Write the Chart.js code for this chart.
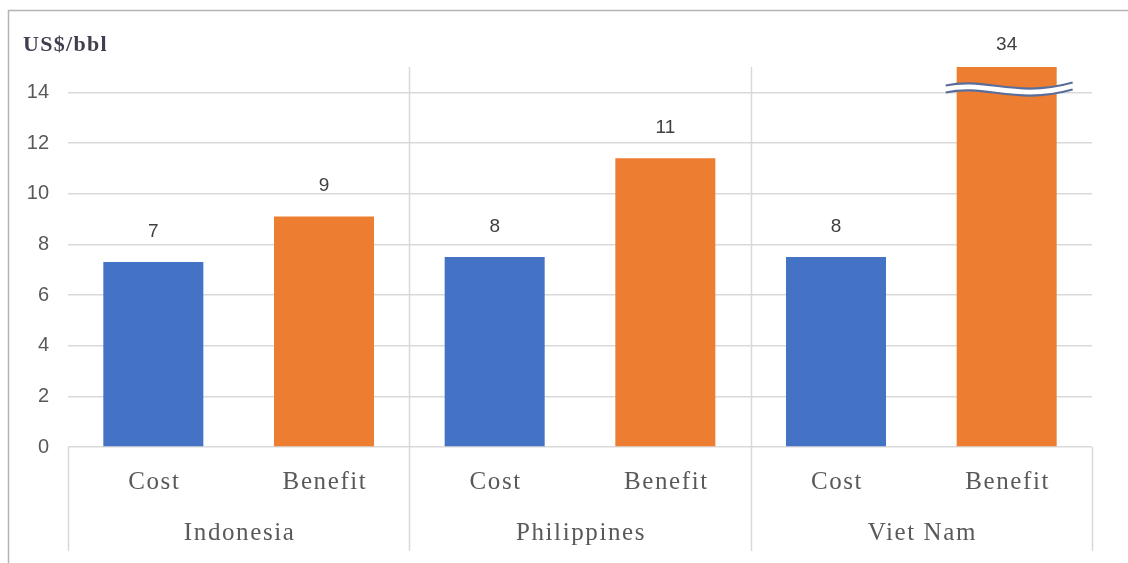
<!DOCTYPE html>
<html>
<head>
<meta charset="utf-8">
<script src="https://cdn.jsdelivr.net/npm/chart.js@4.4.1/dist/chart.umd.min.js"></script>
<style>
  html, body { margin: 0; padding: 0; background: #fff; }
  #wrap { width: 1128px; height: 563px; }
</style>
</head>
<body>
<div id="wrap"><canvas id="grafico" width="1128" height="563"></canvas></div>
<script>
// Dados
var countries = ['Indonesia', 'Philippines', 'Viet Nam'];
var items = ['Cost', 'Benefit'];
var costValues = [7.3, 7.5, 7.5];
var benefitValues = [9.1, 11.4, 34];
var yTicks = [0, 2, 4, 6, 8, 10, 12, 14];
var yMax = 15;
var unitLabel = 'US$/bbl';

var itemColors = ['#4472C4', '#ED7D31'];

// uma barra por item de cada pais
var labels = [];
var values = [];
var colors = [];
countries.forEach(function(c, i) {
    labels.push(items[0], items[1]);
    values.push(costValues[i], benefitValues[i]);
    colors.push(itemColors[0], itemColors[1]);
});

var GRID = '#d9d9d9';
var TEXT = '#595959';

// moldura, eixo de categorias, divisorias e rotulos
var decorPlugin = {
    id: 'decor',
    beforeDraw: function(chart) {
        var ctx = chart.ctx;
        ctx.save();
        ctx.strokeStyle = '#b4b4b4';
        ctx.lineWidth = 1.5;
        ctx.beginPath();
        ctx.moveTo(8.5, 563);
        ctx.lineTo(8.5, 10.5);
        ctx.lineTo(1128, 10.5);
        ctx.stroke();

        ctx.fillStyle = '#3f3f4f';
        ctx.font = 'bold 22px "Liberation Serif"';
        ctx.letterSpacing = '1.3px';
        ctx.textAlign = 'left';
        ctx.textBaseline = 'alphabetic';
        ctx.fillText(unitLabel, 23, 51);
        ctx.restore();
    },
    afterDraw: function(chart) {
        var ctx = chart.ctx;
        var area = chart.chartArea;
        var x = chart.scales.x;
        var bottom = 551;
        ctx.save();

        // divisorias entre paises
        ctx.strokeStyle = GRID;
        ctx.lineWidth = 1.5;
        for (var g = 0; g <= countries.length; g++) {
            var px;
            if (g === 0) px = area.left;
            else if (g === countries.length) px = area.right;
            else px = (x.getPixelForValue(g * 2 - 1) + x.getPixelForValue(g * 2)) / 2;
            var top = (g === 0 || g === countries.length) ? area.bottom : area.top;
            ctx.beginPath();
            ctx.moveTo(Math.round(px) + 0.5, top);
            ctx.lineTo(Math.round(px) + 0.5, bottom);
            ctx.stroke();
        }

        // rotulos das categorias
        ctx.fillStyle = TEXT;
        ctx.font = '25px "Liberation Serif"';
        ctx.letterSpacing = '1.6px';
        ctx.textAlign = 'center';
        ctx.textBaseline = 'middle';
        labels.forEach(function(l, i) {
            ctx.fillText(l, x.getPixelForValue(i) + 1, area.bottom + 35);
        });
        countries.forEach(function(c, i) {
            var cx = (x.getPixelForValue(i * 2) + x.getPixelForValue(i * 2 + 1)) / 2;
            ctx.fillText(c, cx + 1, area.bottom + 86);
        });
        ctx.restore();
    },
    afterDatasetsDraw: function(chart) {
        var ctx = chart.ctx;
        var area = chart.chartArea;
        var y = chart.scales.y;
        var meta = chart.getDatasetMeta(0);
        ctx.save();

        // sinal de quebra nas barras que passam do topo
        meta.data.forEach(function(bar, i) {
            if (values[i] <= yMax) return;
            var x0 = bar.x - 61, x1 = bar.x + 66;
            var yc = y.getPixelForValue(14.15);
            var wave = function(off) {
                ctx.moveTo(x0, yc - 3 + off);
                ctx.bezierCurveTo(x0 + 40, yc - 12 + off, x0 + 70, yc + 10 + off, x1, yc - 6 + off);
            };
            ctx.strokeStyle = '#ffffff';
            ctx.lineWidth = 7;
            ctx.beginPath(); wave(3.5); ctx.stroke();
            ctx.strokeStyle = '#5a6e9c';
            ctx.lineWidth = 2.2;
            ctx.beginPath(); wave(0); ctx.stroke();
            ctx.beginPath(); wave(7); ctx.stroke();
        });

        // valores acima das barras
        ctx.fillStyle = '#404040';
        ctx.font = '19px "Liberation Sans"';
        ctx.textAlign = 'center';
        ctx.textBaseline = 'bottom';
        meta.data.forEach(function(bar, i) {
            var clipped = bar.y < area.top;
            var top = clipped ? area.top - 13 : bar.y - 21;
            ctx.fillText(String(Math.round(values[i])), bar.x, top);
        });
        ctx.restore();
    }
};

var context = document.getElementById('grafico').getContext('2d');
var chart = new Chart(context, {
    type: 'bar',
    data: {
        labels: labels,
        datasets: [{
            data: values,
            backgroundColor: colors,
            borderWidth: 0,
            barPercentage: 0.586,
            categoryPercentage: 1.0
        }]
    },
    options: {
        responsive: false,
        animation: false,
        layout: { padding: { left: 0, top: 67, right: 36, bottom: 116 } },
        plugins: {
            legend: { display: false },
            tooltip: { enabled: false }
        },
        scales: {
            x: {
                display: false
            },
            y: {
                min: 0,
                max: yMax,
                afterBuildTicks: function(scale) {
                    scale.ticks = yTicks.map(function(v) { return { value: v }; });
                },
                afterFit: function(scale) { scale.width = 68; },
                border: { display: false },
                grid: { color: GRID, lineWidth: 1.5, drawTicks: false },
                ticks: {
                    color: TEXT,
                    font: { family: '"Liberation Sans"', size: 20 },
                    padding: 19
                }
            }
        }
    },
    plugins: [decorPlugin]
});
</script>
</body>
</html>
